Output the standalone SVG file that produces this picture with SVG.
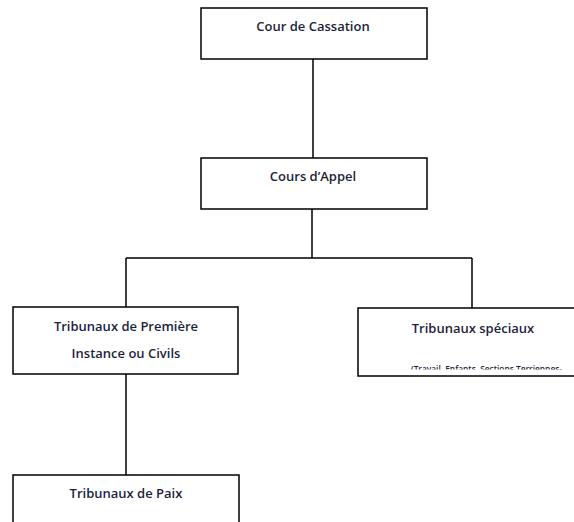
<svg xmlns="http://www.w3.org/2000/svg" width="574" height="522" viewBox="0 0 574 522">
<style>
.box{fill:#fff;stroke:#000;stroke-width:1.5}
.t{font-family:"Open Sans","Liberation Sans",sans-serif;font-weight:600;font-size:13px;fill:#1f1f3a;text-anchor:middle}
.s{font-family:"Open Sans","Liberation Sans",sans-serif;font-weight:600;font-size:9px;fill:#1f1f3a}
.c{fill:none;stroke:#000;stroke-width:1.5}
</style>
<defs>
<clipPath id="clip4"><rect x="359" y="309" width="220" height="60.5"/></clipPath>
</defs>
<rect width="574" height="522" fill="#fff"/>
<g id="connectors">
<path class="c" d="M313,59 V158"/>
<path class="c" d="M312,209 V258 M126,258 H472 M126,258 V307 M472,258 V308"/>
<path class="c" d="M126,374 V475"/>
</g>
<g id="cassation">
<rect class="box" x="201" y="8" width="226" height="51"/>
<text class="t" x="313" y="31">Cour de Cassation</text>
</g>
<g id="appel">
<rect class="box" x="201" y="158" width="226" height="51"/>
<text class="t" x="313" y="181">Cours d’Appel</text>
</g>
<g id="premiere">
<rect class="box" x="13" y="307" width="225" height="67"/>
<text class="t" x="126" y="331">Tribunaux de Première</text>
<text class="t" x="126" y="358">Instance ou Civils</text>
</g>
<g id="speciaux">
<rect class="box" x="358" y="308" width="220" height="68"/>
<text class="t" x="473" y="333">Tribunaux spéciaux</text>
<text class="s" x="411" y="372" textLength="151" lengthAdjust="spacingAndGlyphs" clip-path="url(#clip4)">(Travail, Enfants, Sections Terriennes-</text>
</g>
<g id="paix">
<rect class="box" x="13" y="475" width="226" height="60"/>
<text class="t" x="126" y="498">Tribunaux de Paix</text>
</g>
</svg>
